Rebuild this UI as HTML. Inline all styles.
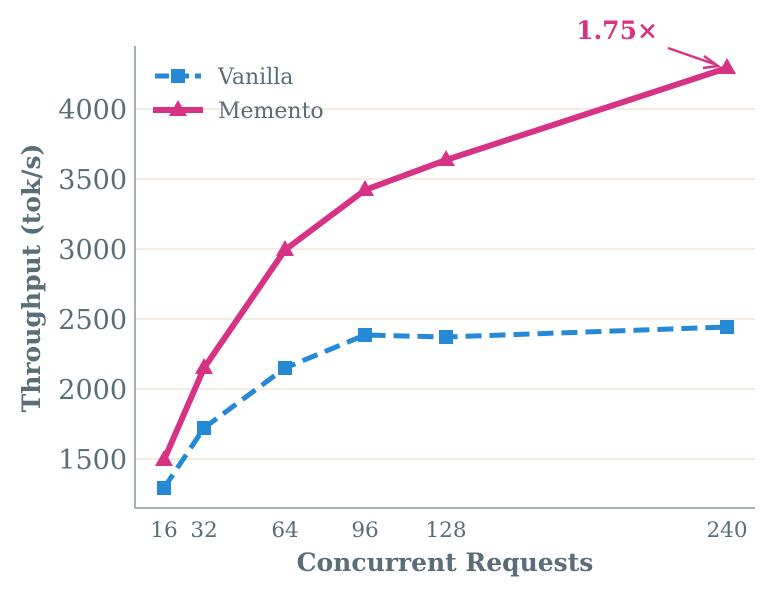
<!DOCTYPE html>
<html><head><style>body{margin:0;background:#fff}svg{display:block}</style></head><body>
<svg width="775" height="596" xmlns="http://www.w3.org/2000/svg" font-family="'DejaVu Serif','Liberation Serif',serif">
<g stroke="#f1e5d3" stroke-width="1.5">
<line x1="135" x2="755" y1="109" y2="109"/><line x1="135" x2="755" y1="179" y2="179"/>
<line x1="135" x2="755" y1="249" y2="249"/><line x1="135" x2="755" y1="319" y2="319"/>
<line x1="135" x2="755" y1="389" y2="389"/><line x1="135" x2="755" y1="459" y2="459"/>
</g>
<g stroke="#8a9698" stroke-width="1.5"><line x1="135" y1="46" x2="135" y2="508"/><line x1="135" y1="508" x2="755" y2="508"/></g>
<g fill="#5a6e78" font-size="27" text-anchor="end">
<text x="127" y="119">4000</text><text x="127" y="189">3500</text><text x="127" y="259">3000</text>
<text x="127" y="329">2500</text><text x="127" y="399">2000</text><text x="127" y="469">1500</text>
</g>
<g fill="#5a6e78" font-size="21.5" text-anchor="middle">
<text x="164" y="537">16</text><text x="204" y="537">32</text><text x="285" y="537">64</text>
<text x="365" y="537">96</text><text x="446" y="537">128</text><text x="727" y="537">240</text>
</g>
<text x="445" y="571" text-anchor="middle" font-size="25" font-weight="bold" fill="#5a6e78">Concurrent Requests</text>
<text transform="translate(40,278) rotate(-90)" text-anchor="middle" font-size="25" font-weight="bold" fill="#5a6e78">Throughput (tok/s)</text>
<polyline points="164,488 204,428 285,368 365,335 446,337 727,327" fill="none" stroke="#2589d6" stroke-width="5" stroke-dasharray="16,8"/>
<g fill="#2589d6">
<rect x="157" y="481" width="14" height="14"/><rect x="197" y="421" width="14" height="14"/><rect x="278" y="361" width="14" height="14"/>
<rect x="358" y="328" width="14" height="14"/><rect x="439" y="330" width="14" height="14"/><rect x="720" y="320" width="14" height="14"/>
</g>
<polyline points="164,460 204,368 285,250 365,190 446,160 727,68" fill="none" stroke="#d63384" stroke-width="6"/>
<g fill="#d63384">
<polygon points="164,450 173,466 155,466"/><polygon points="204,358 213,374 195,374"/><polygon points="285,240 294,256 276,256"/>
<polygon points="365,180 374,196 356,196"/><polygon points="446,150 455,166 437,166"/><polygon points="727,58 736,74 718,74"/>
</g>
<text x="617" y="39" text-anchor="middle" font-size="25" font-weight="bold" fill="#d63384">1.75×</text>
<line x1="668" y1="48" x2="714" y2="64" stroke="#d63384" stroke-width="2.5"/>
<polyline points="704,56 718,66 703,68" fill="none" stroke="#d63384" stroke-width="2.5"/>
<line x1="155" y1="76" x2="201" y2="76" stroke="#2589d6" stroke-width="5" stroke-dasharray="14,6"/>
<rect x="171" y="69" width="14" height="14" fill="#2589d6"/>
<text x="218" y="84" font-size="22" fill="#5a6e78">Vanilla</text>
<line x1="153" y1="110" x2="203" y2="110" stroke="#d63384" stroke-width="6"/>
<polygon points="178,100 187,116 169,116" fill="#d63384"/>
<text x="218" y="118" font-size="22" fill="#5a6e78">Memento</text>
</svg>
</body></html>
